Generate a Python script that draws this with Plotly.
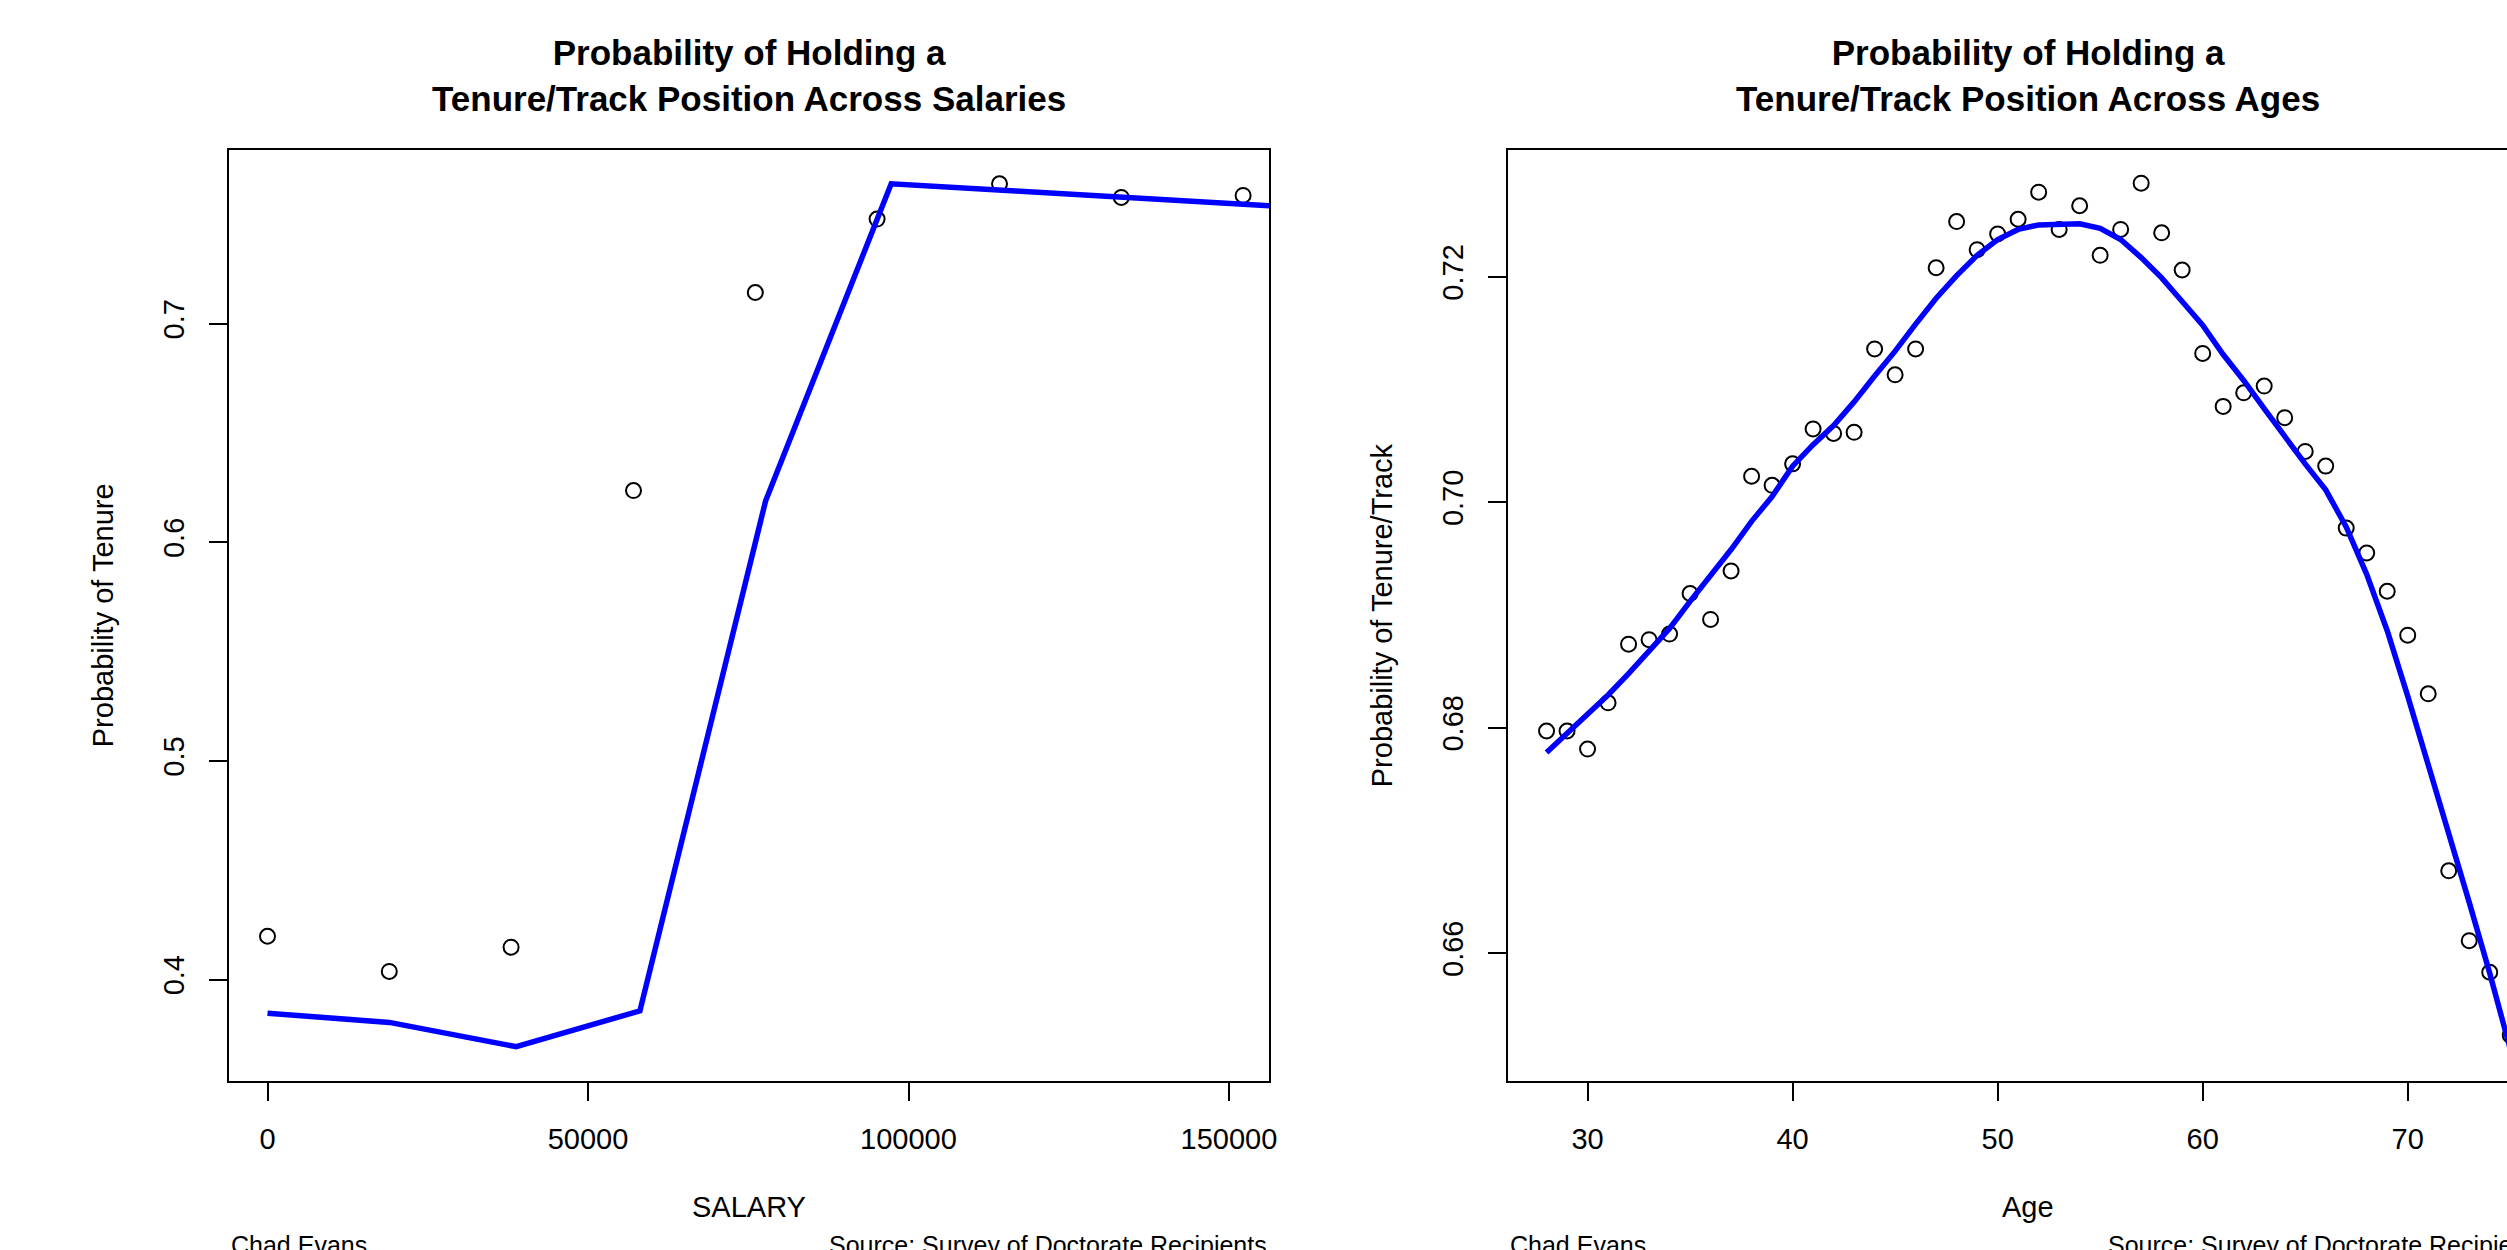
import plotly.graph_objects as go

# ---------------- data ----------------
salary_pts = [0, 19000, 38000, 57100, 76100, 95100, 114200, 133200, 152200]
salary_prob = [0.4198, 0.4037, 0.4148, 0.6236, 0.7142, 0.7478, 0.7639, 0.7577, 0.7586]

salary_fit_x = [0, 19000, 38800, 58100, 77700, 97300, 116700, 136100, 155500, 174900]
salary_fit = [0.3846, 0.3804, 0.3693, 0.3857, 0.6188, 0.7639, 0.7606, 0.7573, 0.7540, 0.7507]

ages = list(range(28, 76))
age_prob = [0.6797, 0.6797, 0.6781, 0.6822, 0.6874, 0.6878, 0.6883, 0.6919, 0.6896, 0.6939,
            0.7023, 0.7015, 0.7034, 0.7065, 0.7061, 0.7062, 0.7136, 0.7113, 0.7136, 0.7208,
            0.7249, 0.7224, 0.7238, 0.7251, 0.7275, 0.7242, 0.7263, 0.7219, 0.7242, 0.7283,
            0.7239, 0.7206, 0.7132, 0.7085, 0.7097, 0.7103, 0.7075, 0.7045, 0.7032, 0.6977,
            0.6955, 0.6921, 0.6882, 0.6830, 0.6673, 0.6611, 0.6583, 0.6527]
age_fit = [0.6778, 0.6795, 0.6812, 0.6829, 0.6848, 0.6868, 0.6888, 0.6912, 0.6935, 0.6958,
           0.6983, 0.7005, 0.7032, 0.7051, 0.7068, 0.7089, 0.7112, 0.7134, 0.7158, 0.7181,
           0.7201, 0.7219, 0.7233, 0.7242, 0.7246, 0.7247, 0.7247, 0.7243, 0.7233, 0.7217,
           0.7199, 0.7178, 0.7157, 0.7131, 0.7108, 0.7083, 0.7058, 0.7034, 0.7011, 0.6978,
           0.6936, 0.6886, 0.6828, 0.6768, 0.6706, 0.6645, 0.6582, 0.6515]

salary_ticks = [0, 50000, 100000, 150000]
salary_tick_text = ["0", "50000", "100000", "150000"]
salary_ytick = [0.4, 0.5, 0.6, 0.7]
salary_ytick_text = ["0.4", "0.5", "0.6", "0.7"]
age_ticks = [30, 40, 50, 60, 70]
age_tick_text = ["30", "40", "50", "60", "70"]
age_ytick = [0.66, 0.68, 0.70, 0.72]
age_ytick_text = ["0.66", "0.68", "0.70", "0.72"]

title_left = "Probability of Holding a<br>Tenure/Track Position Across Salaries"
title_right = "Probability of Holding a<br>Tenure/Track Position Across Ages"
xlab_left, ylab_left = "SALARY", "Probability of Tenure"
xlab_right, ylab_right = "Age", "Probability of Tenure/Track"
author = "Chad Evans"
source = "Source: Survey of Doctorate Recipients"

# ---------------- layout geometry (pixels) ----------------
W, H = 2507, 1250
FONT = "Liberation Sans, Arial, Helvetica, sans-serif"
TICK = 29

def px(x):
    return x / W

def py(y):
    return 1 - y / H

box_top, box_bot = 149.5, 1081
L_left, L_right = 228.7, 1269
R_left, R_right = 1508, 2548

fig = go.Figure()

marker_style = dict(symbol="circle-open", size=15, color="black", line=dict(width=2, color="black"))
line_style = dict(color="#0000ff", width=5.5)

fig.add_trace(go.Scatter(x=salary_pts, y=salary_prob, mode="markers", marker=marker_style,
                         xaxis="x", yaxis="y", showlegend=False))
fig.add_trace(go.Scatter(x=salary_fit_x, y=salary_fit, mode="lines", line=line_style,
                         xaxis="x", yaxis="y", showlegend=False))
fig.add_trace(go.Scatter(x=ages, y=age_prob, mode="markers", marker=marker_style,
                         xaxis="x2", yaxis="y2", showlegend=False))
fig.add_trace(go.Scatter(x=ages, y=age_fit, mode="lines", line=line_style,
                         xaxis="x2", yaxis="y2", showlegend=False))

axis_common = dict(showline=True, linecolor="black", linewidth=2, ticks="outside", ticklen=18,
                   tickwidth=2, tickcolor="black", showgrid=False, zeroline=False,
                   tickfont=dict(family=FONT, size=TICK, color="black"), automargin=False,
                   fixedrange=True)

ydom = [py(box_bot), py(box_top)]

fig.update_layout(
    width=W, height=H,
    margin=dict(l=0, r=0, t=0, b=0),
    paper_bgcolor="white", plot_bgcolor="white",
    font=dict(family=FONT, color="black"),
    xaxis=dict(domain=[px(L_left), px(L_right)], range=[-6053, 156240], anchor="y",
               mirror=True, tickvals=salary_ticks, ticktext=salary_tick_text,
               ticklabelstandoff=13, **axis_common),
    yaxis=dict(domain=ydom, range=[0.3536, 0.7796], anchor="x", mirror=True,
               tickvals=salary_ytick, ticktext=salary_ytick_text, tickangle=-90,
               ticklabelstandoff=13, **axis_common),
    xaxis2=dict(domain=[px(R_left), 1.0], range=[26.12, 74.842], anchor="y2",
                mirror=True, tickvals=age_ticks, ticktext=age_tick_text,
                ticklabelstandoff=13, **axis_common),
    yaxis2=dict(domain=ydom, range=[0.64865, 0.73129], anchor="x2", mirror=False,
                tickvals=age_ytick, ticktext=age_ytick_text, tickangle=-90,
                ticklabelstandoff=13, **axis_common),
)

ann = []
for cx, title, xl in [((L_left + L_right) / 2, title_left, xlab_left),
                      ((R_left + R_right) / 2, title_right, xlab_right)]:
    ann.append(dict(text="<b>" + title + "</b>", x=px(cx), y=py(76), xref="paper", yref="paper",
                    xanchor="center", yanchor="middle", showarrow=False,
                    font=dict(family=FONT, size=35, color="black")))
    ann.append(dict(text=xl, x=px(cx), y=py(1207), xref="paper", yref="paper",
                    xanchor="center", yanchor="middle", showarrow=False,
                    font=dict(family=FONT, size=TICK, color="black")))
for cx, yl in [(103, ylab_left), (1382, ylab_right)]:
    ann.append(dict(text=yl, x=px(cx), y=py((box_top + box_bot) / 2), xref="paper", yref="paper",
                    xanchor="center", yanchor="middle", textangle=-90, showarrow=False,
                    font=dict(family=FONT, size=TICK, color="black")))
for lx, rx in [(L_left, L_right), (R_left, R_right)]:
    ann.append(dict(text=author, x=px(lx), y=py(1245), xref="paper", yref="paper",
                    xanchor="left", yanchor="middle", showarrow=False,
                    font=dict(family=FONT, size=25, color="black")))
    ann.append(dict(text=source, x=px(rx), y=py(1245), xref="paper", yref="paper",
                    xanchor="right", yanchor="middle", showarrow=False,
                    font=dict(family=FONT, size=25, color="black")))
fig.update_layout(annotations=ann)

fig.write_html("out.html", config={"displayModeBar": False},
               post_script="document.body.style.margin='0px';document.body.style.overflow='hidden';")
